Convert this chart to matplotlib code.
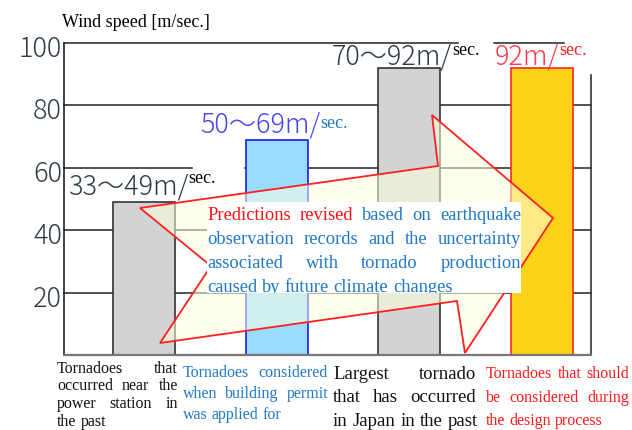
# -*- coding: utf-8 -*-
import matplotlib
matplotlib.use('Agg')
import matplotlib.pyplot as plt
from matplotlib.patches import Polygon, Rectangle
from matplotlib.transforms import Bbox, ScaledTranslation

W, H = 632, 430
SERIF = 'Liberation Serif'
GOTHIC = ['Noto Sans CJK JP', 'DejaVu Sans']

# tornado wind speeds [m/sec.] for each case (upper end of each range)
speeds = [49, 69, 92, 92]
bar_faces = ['#d3d3d3', '#9adcff', '#d3d3d3', '#ffd21a']
bar_edges = ['#333333', '#1a1aff', '#333333', '#ff2a1a']

range_labels = ['33～49m/', '50～69m/', '70～92m/', '92m/']
range_colors = ['#2d3a46', '#4646f5', '#2d3a46', '#ff3a4a']
sec_colors = ['black', '#1f78c8', 'black', '#ff2020']

y_ticks = [20, 40, 60, 80, 100]

case_lines = [
    ['Tornadoes that', 'occurred near the', 'power station in', 'the past'],
    ['Tornadoes considered', 'when building permit', 'was applied for'],
    ['Largest tornado', 'that has occurred', 'in Japan in the past'],
    ['Tornadoes that should', 'be considered during', 'the design process'],
]
case_colors = ['#111111', '#1f78c8', '#111111', '#ff1a1a']

note_lines = [
    'Predictions revised based on earthquake',
    'observation records and the uncertainty',
    'associated with tornado production',
    'caused by future climate changes',
]
note_red_words = 2

fig = plt.figure(figsize=(W / 100, H / 100), dpi=100, facecolor='white')
ax = fig.add_axes([64 / W, 75 / H, 527 / W, 312 / H])
ax.set_xlim(-0.603, 3.368)
ax.set_ylim(0, 100)

# grid, with the gaps left by the value labels
grid_kw = dict(color='#222222', linewidth=1.1, zorder=1, clip_on=False)
for y in (20, 40, 80):
    ax.axhline(y, **grid_kw)
ax.axhline(60, xmax=0.243, **grid_kw)
ax.axhline(60, xmin=0.343, **grid_kw)
ax.axhline(100, xmax=0.748, **grid_kw)
ax.axhline(100, xmin=0.816, xmax=0.949, **grid_kw)

ax.bar(range(len(speeds)), speeds, width=0.467, color=bar_faces,
       edgecolor=bar_edges, linewidth=1.2, zorder=2)

ax.spines['top'].set_visible(False)
ax.spines['left'].set_color('#222222')
ax.spines['left'].set_linewidth(1.2)
ax.spines['bottom'].set_color('#777777')
ax.spines['bottom'].set_linewidth(1.6)
ax.spines['right'].set_color('#333333')
ax.spines['right'].set_linewidth(1.2)
ax.spines['right'].set_bounds(0, 89.7)

ax.set_xticks([])
ax.set_yticks(y_ticks)
ax.set_yticklabels([str(v) for v in y_ticks], family=GOTHIC, fontsize=19.5,
                   fontweight='light', color='#333d48')
ax.tick_params(axis='y', length=0, pad=1.5)
shift = ScaledTranslation(0, -3 / 100, fig.dpi_scale_trans)
for lab in ax.get_yticklabels():
    lab.set_transform(lab.get_transform() + shift)

# translucent callout arrow (axes fraction)
arrow_pts = [(0.1442, 0.4712), (0.2789, 0.2853), (0.1822, 0.0385),
             (0.7457, 0.1731), (0.7609, 0.0064), (0.9279, 0.4391),
             (0.6983, 0.7692), (0.7097, 0.6058)]
ax.add_patch(Polygon(arrow_pts, closed=True, transform=ax.transAxes,
                     facecolor='#ffffe0', alpha=0.55, edgecolor='none',
                     zorder=3, clip_on=False))
ax.add_patch(Polygon(arrow_pts, closed=True, transform=ax.transAxes,
                     facecolor='none', edgecolor='#ff2020', linewidth=1.3,
                     zorder=3.1, clip_on=False))


def fx(x):
    return x / W


def fy(y):
    return 1 - y / H


fig.text(fx(62), fy(27), 'Wind speed [m/sec.]', family=SERIF, fontsize=13,
         va='baseline', ha='left')

# range labels with the small "sec." unit after them
label_pos = [(68, 195, 183), (200, 132, 128), (332, 65, 55), (495, 65, 55)]
for lab, col, scol, (x, base, sbase) in zip(range_labels, range_colors,
                                            sec_colors, label_pos):
    t = fig.text(fx(x), fy(base), lab, family=GOTHIC, fontsize=19.5,
                 fontweight='light', color=col, va='baseline', ha='left')
    ax.annotate('sec.', xy=(1.0, H - sbase), xycoords=(t, 'figure pixels'),
                family=SERIF, fontsize=13, color=scol, va='baseline',
                ha='left', annotation_clip=False)

renderer = fig.canvas.get_renderer()


def text_width(s, size):
    t = fig.text(0, 0, s, family=SERIF, fontsize=size)
    w = t.get_window_extent(renderer).width
    t.remove()
    return w


def paragraph(lines, left, right, base, step, size, colors, clip=None,
              zorder=6):
    space = text_width('a a', size) - text_width('aa', size)
    for i, line in enumerate(lines):
        words = line.split()
        texts = [fig.text(0, 0, w, family=SERIF, fontsize=size,
                          color=colors[i][j], va='baseline', zorder=zorder)
                 for j, w in enumerate(words)]
        widths = [t.get_window_extent(renderer).width for t in texts]
        if i == len(lines) - 1 or len(words) == 1:
            gap = space
        else:
            gap = (right - left - sum(widths)) / (len(words) - 1)
        x = left
        y = base + i * step
        for t, w in zip(texts, widths):
            t.set_position((fx(x), fy(y)))
            if clip is not None:
                t.set_clip_box(clip)
                t.set_clip_on(True)
            x += w + gap


# white note box over the arrow
box_l, box_t, box_r, box_b = 207, 202, 521, 293
fig.add_artist(Rectangle((fx(box_l), fy(box_b)), (box_r - box_l) / W,
                         (box_b - box_t) / H, transform=fig.transFigure,
                         facecolor='white', edgecolor='none', zorder=5))
note_colors = []
for i, line in enumerate(note_lines):
    n = len(line.split())
    note_colors.append(['#ff1010' if (i == 0 and j < note_red_words)
                        else '#1f78c8' for j in range(n)])
paragraph(note_lines, box_l, box_r, 220, 24, 13.3, note_colors,
          clip=Bbox.from_extents(box_l, H - box_b, box_r, H - box_t))

# case descriptions under the bars
case_layout = [(57, 178, 373, 17.5, 11.5), (183, 328, 377, 21, 11.5),
               (333, 476, 379, 23.5, 13.5), (486, 629, 378, 23.5, 11.5)]
for lines, col, (l, r, base, step, size) in zip(case_lines, case_colors,
                                               case_layout):
    paragraph(lines, l, r, base, step, size,
              [[col] * len(s.split()) for s in lines])

fig.savefig('out.png', dpi=100, facecolor='white')
